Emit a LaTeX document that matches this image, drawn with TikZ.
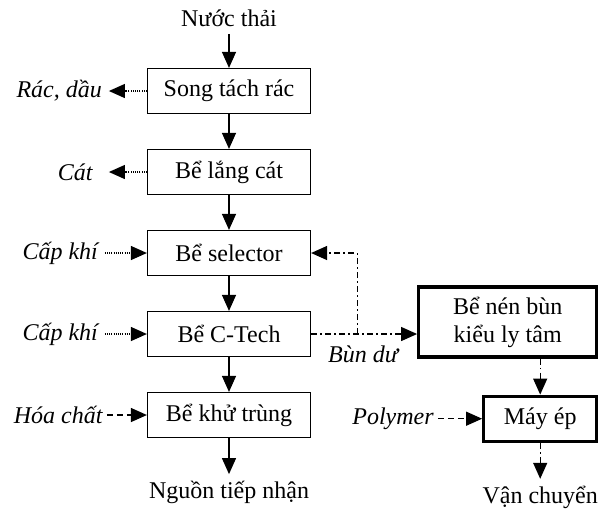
\documentclass[tikz,border=0pt]{standalone}
\usepackage{fontspec}
\setmainfont{Liberation Serif}
\usetikzlibrary{arrows.meta}
\usetikzlibrary{calc}
\usetikzlibrary{positioning}
\tikzstyle{tank} = [rectangle, minimum width=81.5pt, minimum height=22.5pt, text centered, draw=black, line width=0.6pt]
\tikzstyle{sludgebox} = [rectangle, minimum height=22.5pt, align=center, draw=black, line width=1.6pt]
\tikzstyle{label} = [font=\fontsize{12}{14}\selectfont\itshape]
\tikzstyle{arrow} = [line width=0.6pt, -{Triangle[length=8pt,width=7pt]}]
\tikzstyle{dotarrow} = [arrow, dash pattern=on 0.5pt off 0.6pt]
\tikzstyle{dasharrow} = [arrow, dash pattern=on 3pt off 2pt]
\tikzstyle{dasharrowdot} = [arrow, dash pattern=on 3pt off 1.6pt on 0.8pt off 1.6pt]

\begin{document}
\begin{tikzpicture}[node distance=40.5pt, font=\fontsize{12}{14}\selectfont]
\useasboundingbox (-114.5pt,45.5pt) rectangle (189.5pt,-209.5pt);
% water line
\node (song) [tank] at (0,0) {Song tách rác};
\node (in) [above=17pt of song] {Nước thải};
\node (lang) [tank, below of=song] {Bể lắng cát};
\node (selector) [tank, below of=lang] {Bể selector};
\node (ctech) [tank, below of=selector] {Bể C-Tech};
\node (khutrung) [tank, below of=ctech] {Bể khử trùng};
\node (out) [below=18pt of khutrung] {Nguồn tiếp nhận};
% side streams
\node (rac) [label, left=19pt of song] {Rác, dầu};
\node (cat) [label, left=19pt of lang, inner xsep=8pt] {Cát};
\node (khi1) [label, left=21pt of selector] {Cấp khí};
\node (khi2) [label, left=21pt of ctech] {Cấp khí};
\node (hoachat) [label, left=20pt of khutrung, inner xsep=2pt] {Hóa chất};
% sludge line
\node (nenbun) [sludgebox, minimum width=89pt, minimum height=35pt, right=53pt of ctech, yshift=6pt] {Bể nén bùn\\kiểu ly tâm};
\node (mayep) [sludgebox, minimum width=56.5pt, below=18pt of nenbun.south east, anchor=north east] {Máy ép};
\node (vanchuyen) [below=18pt of mayep] {Vận chuyển};
\node (polymer) [label, left=22pt of mayep, inner xsep=2pt] {Polymer};
\coordinate (split) at ($(ctech.east)+(23pt,0)$);
\node (bundu) [label] at ($(ctech.east)+(26pt,-10pt)$) {Bùn dư};

\draw [arrow] (in) -- (song);
\draw [arrow] (song) -- (lang);
\draw [arrow] (lang) -- (selector);
\draw [arrow] (selector) -- (ctech);
\draw [arrow] (ctech) -- (khutrung);
\draw [arrow] (khutrung) -- (out);
\draw [dotarrow] (song.west) -- (rac.east);
\draw [dotarrow] (lang.west) -- (cat.east);
\draw [dotarrow] (khi1.east) -- (selector.west);
\draw [dotarrow] (khi2.east) -- (ctech.west);
\draw [dasharrow] (hoachat.east) -- (khutrung.west);
\draw [dasharrowdot] (ctech.east) -- (ctech.east -| nenbun.west);
\draw [dasharrowdot] (split) |- (selector.east);
\draw [dasharrowdot] (mayep.north |- nenbun.south) -- (mayep.north);
\draw [dasharrow] (polymer.east) -- (mayep.west);
\draw [dasharrowdot] (mayep) -- (vanchuyen);
\end{tikzpicture}
\end{document}
